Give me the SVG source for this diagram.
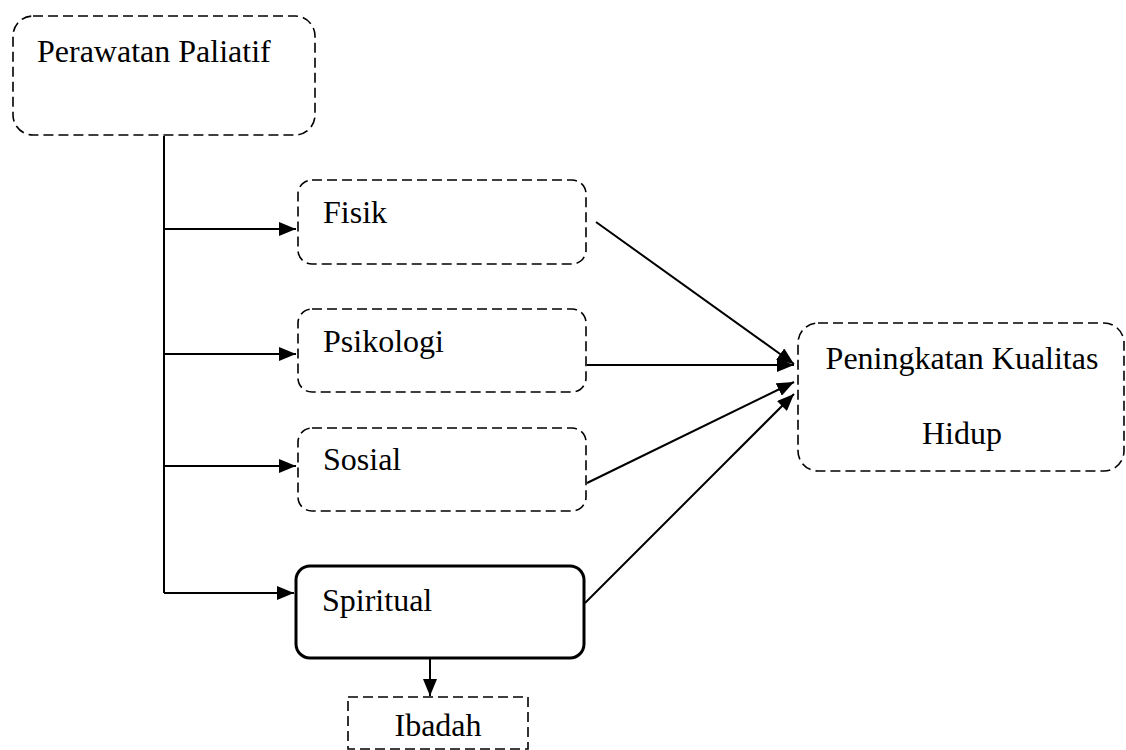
<svg xmlns="http://www.w3.org/2000/svg" width="1126" height="750" viewBox="0 0 1126 750">
<defs>
<marker id="ah" markerWidth="17" markerHeight="14" refX="17" refY="7" orient="auto" markerUnits="userSpaceOnUse" viewBox="0 0 17 14">
<path d="M0,0 L17,7 L0,14 Z" fill="#000"/>
</marker>
<style>
.dash{fill:#fff;stroke:#000;stroke-width:1.6;stroke-dasharray:10 5}
.solid{fill:#fff;stroke:#000;stroke-width:3}
.c{fill:none;stroke:#000;stroke-width:2}
</style>
</defs>
<rect width="1126" height="750" fill="#fff"/>
<g id="connectors">
<line class="c" x1="164" y1="136" x2="164" y2="593"/>
<line class="c" x1="164" y1="229" x2="296" y2="229" marker-end="url(#ah)"/>
<line class="c" x1="164" y1="354" x2="296" y2="354" marker-end="url(#ah)"/>
<line class="c" x1="164" y1="466" x2="296" y2="466" marker-end="url(#ah)"/>
<line class="c" x1="164" y1="593" x2="294" y2="593" marker-end="url(#ah)"/>
<line class="c" x1="596" y1="222" x2="794" y2="364" marker-end="url(#ah)"/>
<line class="c" x1="587" y1="365" x2="794" y2="365" marker-end="url(#ah)"/>
<line class="c" x1="587" y1="483" x2="794" y2="382" marker-end="url(#ah)"/>
<line class="c" x1="585" y1="603" x2="794" y2="394" marker-end="url(#ah)"/>
<line class="c" x1="430" y1="659" x2="430" y2="696" marker-end="url(#ah)"/>
</g>
<g font-family="'Liberation Serif', 'DejaVu Serif', serif" font-size="32" fill="#000">
<g id="perawatan">
<rect class="dash" x="13" y="16" width="302" height="119" rx="20"/>
<text x="37" y="62">Perawatan Paliatif</text>
</g>
<g id="fisik">
<rect class="dash" x="298" y="180" width="288" height="84" rx="14"/>
<text x="323" y="223">Fisik</text>
</g>
<g id="psikologi">
<rect class="dash" x="298" y="309" width="288" height="83" rx="14"/>
<text x="323" y="352">Psikologi</text>
</g>
<g id="sosial">
<rect class="dash" x="298" y="428" width="288" height="83" rx="14"/>
<text x="323" y="470">Sosial</text>
</g>
<g id="spiritual">
<rect class="solid" x="296" y="566" width="288" height="92" rx="14"/>
<text x="322" y="611">Spiritual</text>
</g>
<g id="ibadah">
<rect class="dash" x="348" y="697" width="180" height="52"/>
<text x="438" y="736" text-anchor="middle">Ibadah</text>
</g>
<g id="peningkatan">
<rect class="dash" x="798" y="323" width="326" height="148" rx="20"/>
<text x="962" y="369" text-anchor="middle">Peningkatan Kualitas</text>
<text x="962" y="444" text-anchor="middle">Hidup</text>
</g>
</g>
</svg>
